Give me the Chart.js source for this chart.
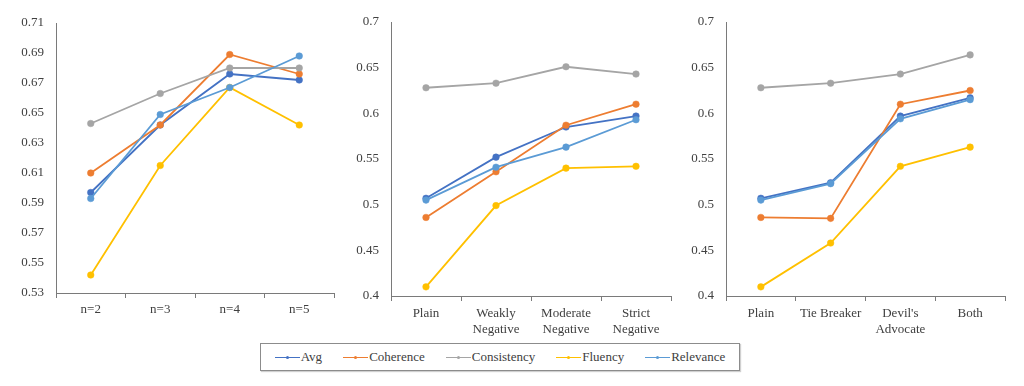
<!DOCTYPE html>
<html><head><meta charset="utf-8">
<script src="https://cdn.jsdelivr.net/npm/chart.js@4/dist/chart.umd.min.js"></script>
<style>
html,body{margin:0;padding:0;background:#fff;width:1024px;height:386px;overflow:hidden;font-family:"Liberation Serif","Times New Roman",serif;}
.panel{position:absolute;top:0;}
#legend{position:absolute;left:260px;top:343px;width:478px;height:26px;border:1px solid #8c8c8c;box-shadow:1px 1px 1px #d0d0d0;display:flex;justify-content:center;align-items:center;gap:21px;font-size:13px;color:#404040;}
.item{display:flex;align-items:center;}
.mk{position:relative;width:25px;height:1px;margin-right:1px;}
.mk span{position:absolute;left:11px;top:-1px;width:3px;height:3px;border-radius:50%;}
</style></head>
<body>
<div class="panel" style="left:0px"><canvas id="c1" width="340" height="335"></canvas></div>
<div class="panel" style="left:340px"><canvas id="c2" width="340" height="340"></canvas></div>
<div class="panel" style="left:680px"><canvas id="c3" width="344" height="340"></canvas></div>
<div id="legend"></div>
<script>
// ---- data ----
const seriesNames = ['Avg','Coherence','Consistency','Fluency','Relevance'];
const seriesColors = ['#4472C4','#ED7D31','#A5A5A5','#FFC000','#5B9BD5'];

const labels1 = ['n=2','n=3','n=4','n=5'];
const p1Avg         = [0.597, 0.642, 0.676, 0.672];
const p1Coherence   = [0.610, 0.642, 0.689, 0.676];
const p1Consistency = [0.643, 0.663, 0.680, 0.680];
const p1Fluency     = [0.542, 0.615, 0.667, 0.642];
const p1Relevance   = [0.593, 0.649, 0.667, 0.688];
const yTicks1 = [0.53,0.55,0.57,0.59,0.61,0.63,0.65,0.67,0.69,0.71];

const labels2 = ['Plain',['Weakly','Negative'],['Moderate','Negative'],['Strict','Negative']];
const p2Avg         = [0.507, 0.552, 0.585, 0.597];
const p2Coherence   = [0.486, 0.536, 0.587, 0.610];
const p2Consistency = [0.628, 0.633, 0.651, 0.643];
const p2Fluency     = [0.410, 0.499, 0.540, 0.542];
const p2Relevance   = [0.505, 0.541, 0.563, 0.593];
const yTicks2 = [0.4,0.45,0.5,0.55,0.6,0.65,0.7];

const labels3 = ['Plain','Tie Breaker',["Devil's",'Advocate'],'Both'];
const p3Avg         = [0.507, 0.524, 0.597, 0.617];
const p3Coherence   = [0.486, 0.485, 0.610, 0.625];
const p3Consistency = [0.628, 0.633, 0.643, 0.664];
const p3Fluency     = [0.410, 0.458, 0.542, 0.563];
const p3Relevance   = [0.505, 0.523, 0.594, 0.615];
const yTicks3 = [0.4,0.45,0.5,0.55,0.6,0.65,0.7];

// ---- charts ----
const FONT = {family:'"Liberation Serif","Times New Roman",serif', size:13, lineHeight:1.25};
const AXIS = '#7a7a7a';
const TXT = '#404040';

function makeChart(id, labels, series, yTicks, yW, xH, padR, padT, tickPad){
  const datasets = series.map((d,i)=>({
    label: seriesNames[i], data: d,
    borderColor: seriesColors[i], backgroundColor: seriesColors[i],
    pointBackgroundColor: seriesColors[i], pointBorderColor: seriesColors[i],
    borderWidth: 1.8, pointRadius: 3.3, pointBorderWidth: 0.5,
    tension: 0, order: series.length - i
  }));
  return new Chart(document.getElementById(id), {
    type:'line',
    data:{labels, datasets},
    options:{
      responsive:false, animation:false,
      layout:{padding:{top:padT, right:padR, left:0, bottom:0}},
      plugins:{legend:{display:false}, tooltip:{enabled:false}},
      scales:{
        x:{
          offset:true,
          grid:{display:true, drawOnChartArea:false, drawTicks:true, tickLength:5, offset:true, color:AXIS, lineWidth:1},
          border:{display:true, color:AXIS, width:1},
          ticks:{font:FONT, color:TXT, padding:tickPad, maxRotation:0, autoSkip:false},
          afterFit:(s)=>{ s.height = xH; }
        },
        y:{
          min:yTicks[0], max:yTicks[yTicks.length-1],
          grid:{display:true, drawOnChartArea:false, drawTicks:false},
          border:{display:true, color:AXIS, width:1},
          ticks:{font:FONT, color:TXT, padding:12, callback:(v)=>String(Number(Number(v).toFixed(2)))},
          afterBuildTicks:(s)=>{ s.ticks = yTicks.map(v=>({value:v})); },
          afterFit:(s)=>{ s.width = yW; }
        }
      }
    }
  });
}

makeChart('c1', labels1, [p1Avg,p1Coherence,p1Consistency,p1Fluency,p1Relevance], yTicks1, 56, 42, 6, 23, 3);
makeChart('c2', labels2, [p2Avg,p2Coherence,p2Consistency,p2Fluency,p2Relevance], yTicks2, 51, 44, 9, 22, 4);
makeChart('c3', labels3, [p3Avg,p3Coherence,p3Consistency,p3Fluency,p3Relevance], yTicks3, 46, 44, 19, 22, 4);

// ---- legend ----
const lg = document.getElementById('legend');
seriesNames.forEach((n,i)=>{
  const it = document.createElement('div'); it.className='item';
  const mk = document.createElement('div'); mk.className='mk'; mk.style.background=seriesColors[i];
  const dot = document.createElement('span'); dot.style.background=seriesColors[i]; mk.appendChild(dot);
  const t = document.createElement('span'); t.textContent=n;
  it.appendChild(mk); it.appendChild(t); lg.appendChild(it);
});
</script>
</body></html>
